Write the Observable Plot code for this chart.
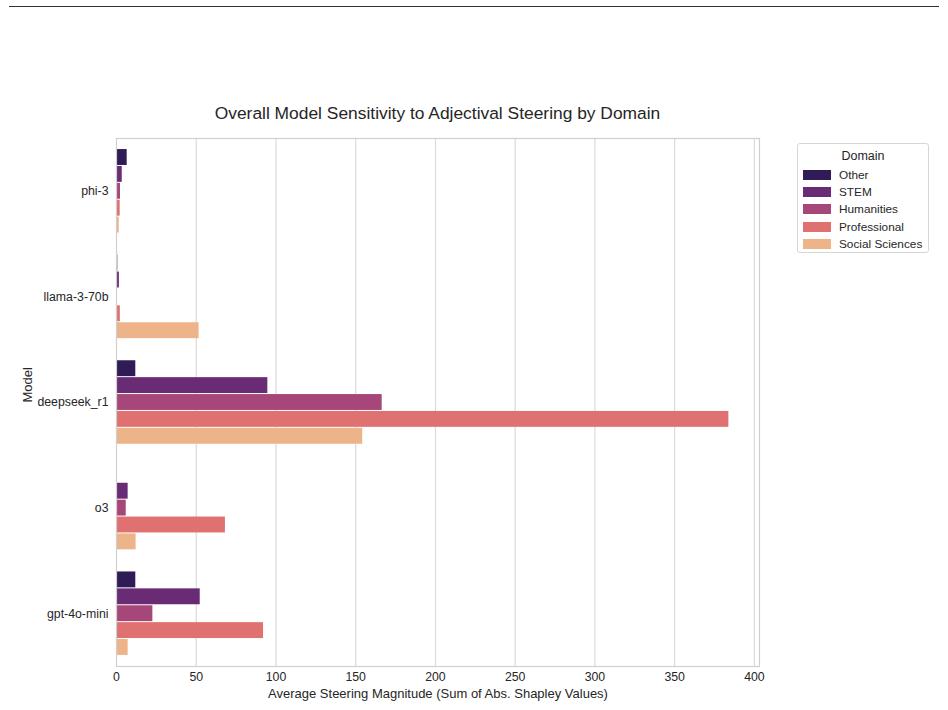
<!DOCTYPE html>
<html>
<head>
<meta charset="utf-8">
<script src="https://cdn.jsdelivr.net/npm/d3@7"></script>
<script src="https://cdn.jsdelivr.net/npm/@observablehq/plot@0.6"></script>
<style>
  html, body { margin: 0; padding: 0; background: #fff; }
  #wrap { position: relative; width: 948px; height: 710px; font-family: "Liberation Sans", Arial, sans-serif; color: #262626; }
  #topline { position: absolute; left: 9px; top: 6px; width: 930px; height: 0; border-top: 1.3px solid #333; }
  #title { position: absolute; left: 116px; width: 643px; top: 103px; text-align: center; font-size: 17.4px; color: #262626; }
  #legend { position: absolute; left: 797px; top: 143px; width: 132px; height: 110px; border: 1px solid #d6d6d6; border-radius: 3px; box-sizing: border-box; font-size: 11.8px; }
  #legend .lt { text-align: center; margin-top: 5px; font-size: 12.5px; height: 17px; }
  #legend .row { display: flex; align-items: center; height: 17.3px; }
  #legend .sw { width: 28px; height: 10px; margin-left: 5px; margin-right: 8px; }
  #chart { position: absolute; left: 0; top: 0; }
</style>
</head>
<body>
<div id="wrap">
  <div id="chart"></div>
  <div id="topline"></div>
  <div id="title"></div>
  <div id="legend"></div>
</div>
<script>
const titleText = "Overall Model Sensitivity to Adjectival Steering by Domain";
const xLabel = "Average Steering Magnitude (Sum of Abs. Shapley Values)";
const yLabel = "Model";
const legendTitle = "Domain";

const models = ["phi-3", "llama-3-70b", "deepseek_r1", "o3", "gpt-4o-mini"];
const domains = ["Other", "STEM", "Humanities", "Professional", "Social Sciences"];
const colors = ["#2f1b55", "#6a2b75", "#a74779", "#df7170", "#edb389"];

const other        = [6.7, 0.8, 12.1, null, 12.1];
const stem         = [3.6, 1.8, 94.9, 7.3, 52.5];
const humanities   = [2.5, 0.5, 166.6, 6.1, 22.8];
const professional = [2.3, 2.4, 384.0, 68.3, 92.2];
const social       = [1.7, 51.8, 154.4, 12.3, 7.3];

const xTicks = [0, 50, 100, 150, 200, 250, 300, 350, 400];
const gridTicks = [50, 100, 150, 200, 250, 300, 350, 400];

const series = [other, stem, humanities, professional, social];
const rows = [];
series.forEach((vals, di) => {
  vals.forEach((v, mi) => {
    if (v != null) rows.push({model: models[mi], mi, domain: domains[di], di, value: v});
  });
});

const groupWidth = 0.8;
const bw = groupWidth / domains.length;

const chart = Plot.plot({
  width: 948,
  height: 710,
  marginLeft: 116,
  marginRight: 189,
  marginTop: 138,
  marginBottom: 44,
  style: {fontFamily: "'Liberation Sans', Arial, sans-serif", fontSize: "12.3px", color: "#262626", background: "white"},
  x: {domain: [0, 403.2], ticks: xTicks, tickSize: 0, tickPadding: 6, label: null},
  y: {domain: [4.5, -0.5], ticks: models.map((m, i) => i), tickFormat: i => models[i], tickSize: 0, tickPadding: 8, label: null},
  color: {domain: domains, range: colors},
  marks: [
    Plot.ruleX(gridTicks, {stroke: "#dadada", strokeWidth: 1.2}),
    Plot.rectX(rows, {
      x1: 0,
      x2: "value",
      y1: d => d.mi - groupWidth / 2 + d.di * bw,
      y2: d => d.mi - groupWidth / 2 + (d.di + 1) * bw,
      fill: "domain",
      insetTop: 0.5,
      insetBottom: 0.5
    }),
    Plot.frame({stroke: "#cfcfcf", strokeWidth: 1.2}),
    Plot.text([xLabel], {frameAnchor: "bottom", dy: 31, fontSize: 13, fill: "#262626", text: d => d}),
    Plot.text([yLabel], {frameAnchor: "left", dx: -89, rotate: -90, fontSize: 13, fill: "#262626", text: d => d})
  ]
});
document.getElementById("chart").appendChild(chart);

document.getElementById("title").textContent = titleText;
const leg = document.getElementById("legend");
const lt = document.createElement("div");
lt.className = "lt";
lt.textContent = legendTitle;
leg.appendChild(lt);
domains.forEach((d, i) => {
  const r = document.createElement("div");
  r.className = "row";
  const s = document.createElement("div");
  s.className = "sw";
  s.style.background = colors[i];
  const t = document.createElement("span");
  t.textContent = d;
  r.appendChild(s); r.appendChild(t);
  leg.appendChild(r);
});
</script>
</body>
</html>
